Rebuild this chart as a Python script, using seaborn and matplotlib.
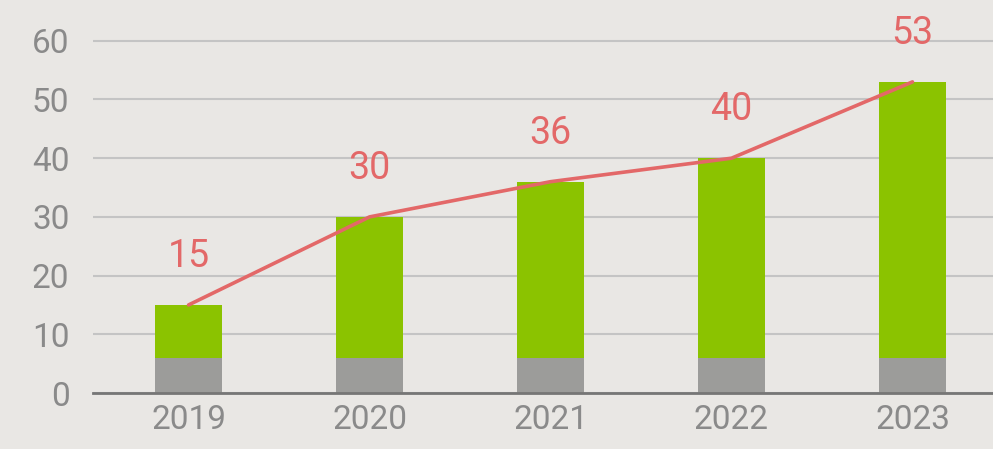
import matplotlib
matplotlib.use("Agg")
import matplotlib.pyplot as plt
import seaborn as sns
import numpy as np
import pandas as pd

years = ["2019", "2020", "2021", "2022", "2023"]
totals = [15, 30, 36, 40, 53]
base = [6, 6, 6, 6, 6]
yticks = [0, 10, 20, 30, 40, 50, 60]

BG = "#e9e7e4"
GREEN = "#8bc300"
GRAY = "#9c9c9a"
RED = "#e36868"
TXT = "#8a8a8a"

sns.set_theme(style="white")
plt.rcParams["font.family"] = ["Roboto", "DejaVu Sans"]

fig = plt.figure(figsize=(9.93, 4.49), dpi=100, facecolor=BG)
ax = fig.add_axes([93 / 993, 56 / 449, 1 - 93 / 993, 393 / 449])
ax.set_facecolor(BG)

df = pd.DataFrame({"year": years, "total": totals, "base": base})
sns.barplot(data=df, x="year", y="total", color=GREEN, width=0.37,
            saturation=1, ax=ax, zorder=3, linewidth=0, edgecolor="none")
sns.barplot(data=df, x="year", y="base", color=GRAY, width=0.37,
            saturation=1, ax=ax, zorder=3, linewidth=0, edgecolor="none")
sns.lineplot(x=np.arange(len(years)), y=totals, color=RED, lw=2.6,
             ax=ax, zorder=4)

for i, v in enumerate(totals):
    ax.annotate(str(v), (i, v), xytext=(0, 35), textcoords="offset points",
                ha="center", va="center", fontsize=27, color=RED,
                fontweight="normal")

ax.set_xlim(-0.528, 4.445)
ax.set_ylim(0, 66.95)
ax.set_yticks(yticks)
ax.set_yticklabels([str(t) for t in yticks])
ax.yaxis.grid(True, color="#c4c4c4", lw=1.5, zorder=0)
ax.xaxis.grid(False)
for s in ["top", "right", "left"]:
    ax.spines[s].set_visible(False)
ax.spines["bottom"].set_color("#767676")
ax.spines["bottom"].set_linewidth(2)
ax.spines["bottom"].set_zorder(5)
ax.tick_params(axis="y", length=0, pad=17, labelsize=24, labelcolor=TXT)
ax.tick_params(axis="x", length=0, pad=8, labelsize=24, labelcolor=TXT)
ax.set_xlabel("")
ax.set_ylabel("")

fig.savefig("out.png", dpi=100, facecolor=BG)
